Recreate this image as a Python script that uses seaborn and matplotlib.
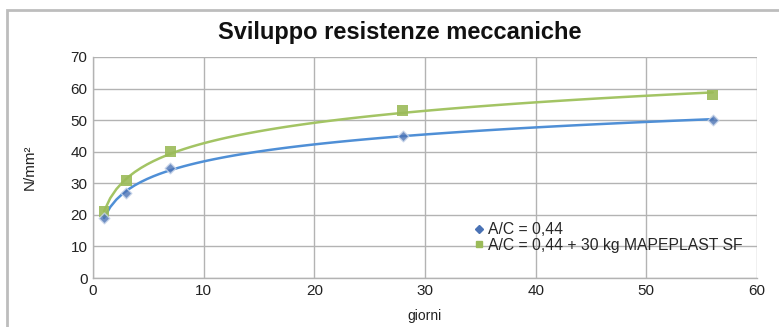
import matplotlib
matplotlib.use("Agg")
import matplotlib.pyplot as plt
import seaborn as sns
import pandas as pd
from matplotlib.lines import Line2D
from matplotlib.patches import Rectangle

giorni = [1, 3, 7, 28, 56]
ac044 = [19, 27, 35, 45, 50]
ac044_sf = [21, 31, 40, 53, 58]
series_names = ["A/C = 0,44", "A/C = 0,44 + 30 kg MAPEPLAST SF"]
x_ticks = [0, 10, 20, 30, 40, 50, 60]
y_ticks = [0, 10, 20, 30, 40, 50, 60, 70]

sns.set_theme(style="white")
plt.rcParams['font.family'] = ['Liberation Sans', 'DejaVu Sans']

blue_line = "#4f8fd6"
blue_mark = "#4a72b5"
green_line = "#a3c464"
green_mark = "#9bbb59"

fig = plt.figure(figsize=(7.79, 3.27), dpi=100)
fig.patch.set_facecolor("white")
# chart area border
fig.patches.append(Rectangle((7/779, -0.1), 1.2, 1 - 10/327 + 0.1, transform=fig.transFigure,
                             fill=False, edgecolor="#bdbdbd", linewidth=2.0, zorder=0))

ax = fig.add_axes([93/779, 1 - 278/327, (757 - 93)/779, (278 - 57)/327])

df1 = pd.DataFrame({"giorni": giorni, "val": ac044})
df2 = pd.DataFrame({"giorni": giorni, "val": ac044_sf})

sns.regplot(data=df2, x="giorni", y="val", ax=ax, logx=True, ci=None, marker="s",
            scatter_kws=dict(s=60, color=green_mark, edgecolors="none", alpha=0.9, zorder=4),
            line_kws=dict(color=green_line, linewidth=1.8, zorder=3))
sns.regplot(data=df1, x="giorni", y="val", ax=ax, logx=True, ci=None, marker="D",
            scatter_kws=dict(s=30, color=blue_mark, edgecolors="#c9d6ea", linewidths=1.0, zorder=4),
            line_kws=dict(color=blue_line, linewidth=1.8, zorder=3))

ax.set_xlim(0, 60)
ax.set_ylim(0, 70)
ax.set_xticks(x_ticks)
ax.set_yticks(y_ticks)
ax.grid(True, color="#b3b3b3", linewidth=1.0)
ax.set_axisbelow(True)
for side in ["top", "right"]:
    ax.spines[side].set_visible(False)
for side in ["left", "bottom"]:
    ax.spines[side].set_color("#b3b3b3")
    ax.spines[side].set_linewidth(1.0)
ax.tick_params(axis="both", labelsize=11, colors="#222222", length=0, pad=4)
ax.set_xlabel("giorni", fontsize=10, color="#222222", labelpad=8)
ax.set_ylabel("N/mm²", fontsize=11, color="#222222", labelpad=24)

fig.text(400/779, 1 - 33/327, "Sviluppo resistenze meccaniche", ha="center", va="center",
         fontsize=17, fontweight="bold", color="#111111")

handles = [Line2D([], [], linestyle="none", marker="D", markersize=4, color=blue_mark),
           Line2D([], [], linestyle="none", marker="s", markersize=5, color=green_mark)]
ax.legend(handles, series_names, loc="upper left", bbox_to_anchor=((474 - 93)/664, (278 - 222)/221),
          frameon=False, fontsize=11.3, handlelength=0.6, handletextpad=0.3, labelspacing=0.05,
          borderaxespad=0, borderpad=0)

fig.savefig("out.png", dpi=100)
